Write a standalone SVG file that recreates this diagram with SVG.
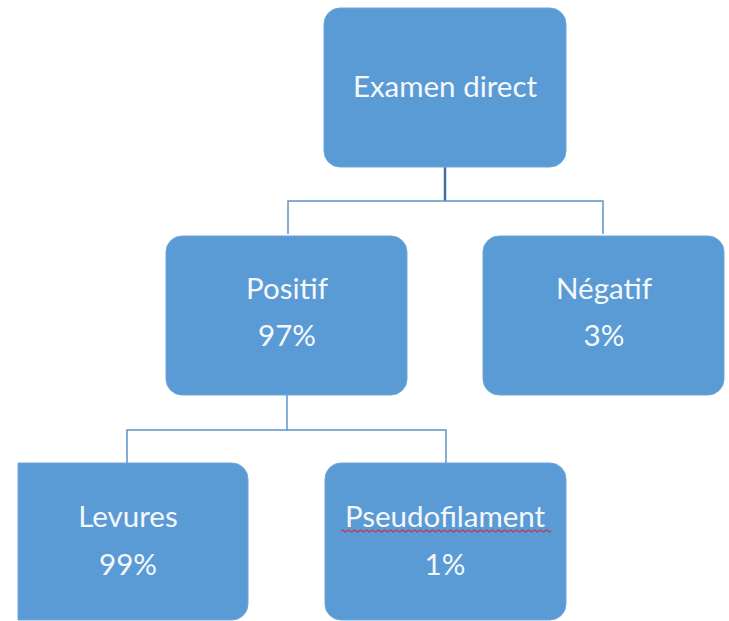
<svg xmlns="http://www.w3.org/2000/svg" width="729" height="621" viewBox="0 0 729 621">
<style>
.box{fill:#5b9bd5;stroke:#6ea6da;stroke-width:1}
.t{font-family:Lato,"Open Sans","Noto Sans",sans-serif;font-size:29.5px;fill:#f4f8fc;text-anchor:middle}
.c{fill:none;stroke:#5e93c9;stroke-width:1.5}
.stem{fill:none;stroke:#41719c;stroke-width:2.5}
</style>
<rect width="729" height="621" fill="#ffffff"/>
<g id="connectors">
<path class="stem" d="M445 167V201"/>
<path class="c" d="M288 234V201H603V234"/>
<path class="c" d="M287 395V430"/>
<path class="c" d="M127 463V430H446V463"/>
</g>
<g id="examen">
<rect class="box" x="324" y="8" width="242" height="159" rx="16"/>
<text class="t" x="445" y="97">Examen direct</text>
</g>
<g id="positif">
<rect class="box" x="166" y="236" width="241" height="159" rx="16"/>
<text class="t" x="287" y="299">Positif</text>
<text class="t" x="287" y="346">97%</text>
</g>
<g id="negatif">
<rect class="box" x="483" y="236" width="241" height="159" rx="16"/>
<text class="t" x="604" y="299">Négatif</text>
<text class="t" x="604" y="346">3%</text>
</g>
<g id="levures">
<path class="box" d="M18 463H232A16 16 0 0 1 248 479V604A16 16 0 0 1 232 620H18Z"/>
<text class="t" x="128" y="527">Levures</text>
<text class="t" x="128" y="575">99%</text>
</g>
<g id="pseudofilament">
<rect class="box" x="325" y="463" width="241" height="157" rx="16"/>
<text class="t" x="445" y="527">Pseudofilament</text>
<text class="t" x="445" y="575">1%</text>
<path d="M341 531q1.5-2 3 0t3 0t3 0t3 0t3 0t3 0t3 0t3 0t3 0t3 0t3 0t3 0t3 0t3 0t3 0t3 0t3 0t3 0t3 0t3 0t3 0t3 0t3 0t3 0t3 0t3 0t3 0t3 0t3 0t3 0t3 0t3 0t3 0t3 0t3 0t3 0t3 0t3 0t3 0t3 0t3 0t3 0t3 0t3 0t3 0t3 0t3 0t3 0t3 0t3 0t3 0t3 0t3 0t3 0t3 0t3 0t3 0t3 0t3 0t3 0t3 0t3 0t3 0t3 0t3 0t3 0t3 0t3 0t3 0t3 0t3" fill="none" stroke="#d9262a" stroke-width="1.2"/>
</g>
</svg>
